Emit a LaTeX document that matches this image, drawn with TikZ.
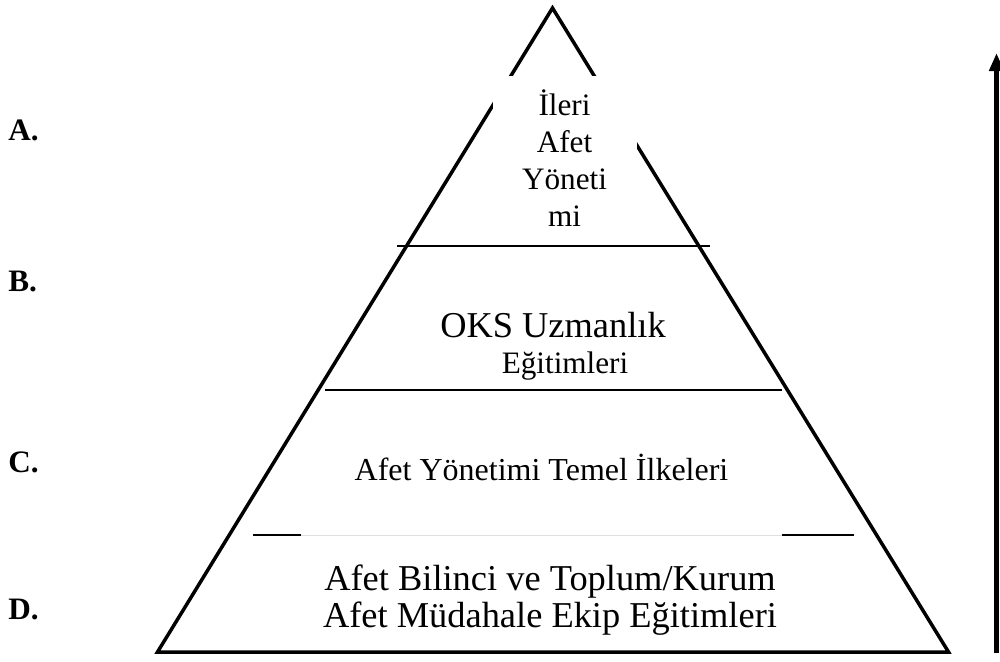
\documentclass[tikz,border=0pt]{standalone}
\usepackage{fontspec}
\setmainfont{Liberation Serif}
\usetikzlibrary{arrows.meta}
\begin{document}
\begin{tikzpicture}[x=0.5pt,y=-0.5pt,
  txt/.style={anchor=base,inner sep=0pt,font=\fontsize{15.6}{18.5}\selectfont},
  bigtxt/.style={anchor=base,inner sep=0pt,font=\fontsize{18.2}{21}\selectfont},
  lbl/.style={anchor=base west,inner sep=0pt,font=\fontsize{15.6}{18.5}\selectfont\bfseries},
  tri/.style={line width=1.75pt,line join=miter},
  sep/.style={line width=1.2pt}]
\clip (0,0) rectangle (1000,661);
\fill[white] (0,0) rectangle (1000,661);
% pyramid
\coordinate (apex) at (552.5,8);
\coordinate (bl) at (157.5,652);
\coordinate (br) at (948.5,652);
\draw[tri] (bl) -- (apex) -- (br) -- cycle;
% white text box at the top
\fill[white] (493,76) rectangle (637,241);
% separators
\coordinate (l1a) at (397,246); \coordinate (l1b) at (710,246);
\coordinate (l2a) at (325,390); \coordinate (l2b) at (782,390);
\coordinate (l3a) at (253,535); \coordinate (l3b) at (301,535);
\coordinate (l3c) at (782,535); \coordinate (l3d) at (854,535);
\draw[line width=1pt] (l1a) -- (l1b);
\draw[sep] (l2a) -- (l2b);
\draw[sep] (l3a) -- (l3b);
\draw[sep] (l3c) -- (l3d);
\draw[gray!25,line width=0.4pt] (l3b) -- (l3c);
% texts
\node[txt] (t1) at (564.5,115) {İleri};
\node[txt] (t2) at (564.5,152) {Afet};
\node[txt] (t3) at (564.5,189) {Yöneti};
\node[txt] (t4) at (564.5,226) {mi};
\node[bigtxt] (o1) at (553,337) {OKS Uzmanlık};
\node[txt] (o2) at (565,373) {Eğitimleri};
\node[txt,font=\fontsize{16}{18.5}\selectfont] (c1) at (541.5,480) {Afet Yönetimi Temel İlkeleri};
\node[bigtxt] (d1) at (550,590) {Afet Bilinci ve Toplum/Kurum};
\node[bigtxt] (d2) at (550,627) {Afet Müdahale Ekip Eğitimleri};
% labels
\node[lbl] (la) at (8,140) {A.};
\node[lbl] (lb) at (8,291) {B.};
\node[lbl] (lc) at (8,472) {C.};
\node[lbl] (ld) at (8,619) {D.};
% arrow
\coordinate (arrbot) at (996.5,653);
\coordinate (arrtop) at (996.5,53);
\draw[line width=2.6pt,-{Triangle[length=9pt,width=7pt]}] (arrbot) -- (arrtop);
\end{tikzpicture}
\end{document}
